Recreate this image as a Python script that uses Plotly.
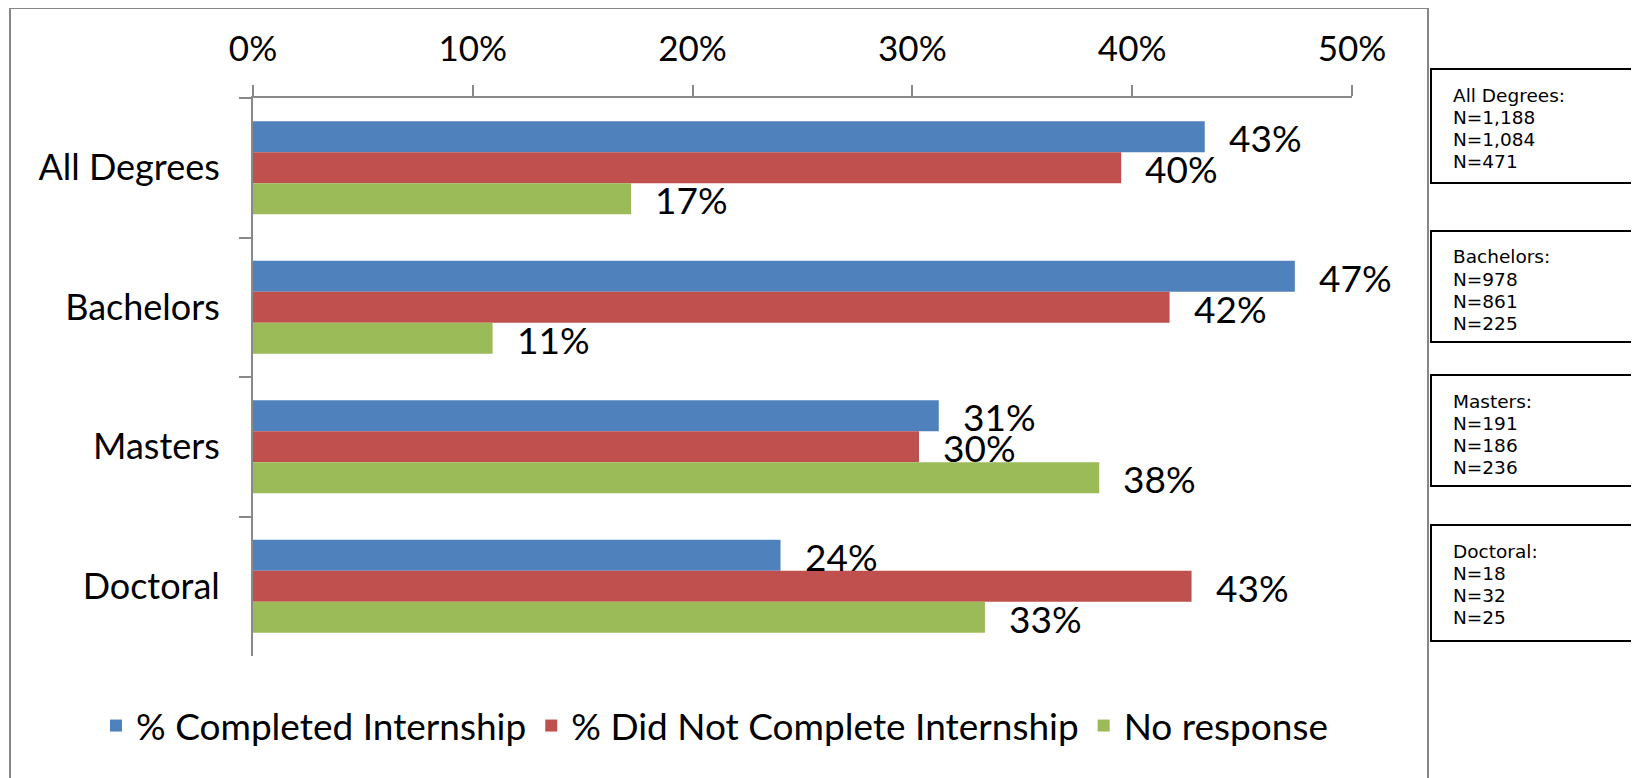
import plotly.graph_objects as go

categories = ["All Degrees", "Bachelors", "Masters", "Doctoral"]
series_names = ["% Completed Internship", "% Did Not Complete Internship", "No response"]
completed = [43.3, 47.4, 31.2, 24.0]
not_completed = [39.5, 41.7, 30.3, 42.7]
no_response = [17.2, 10.9, 38.5, 33.3]
label_completed = ["43%", "47%", "31%", "24%"]
label_not_completed = ["40%", "42%", "30%", "43%"]
label_no_response = ["17%", "11%", "38%", "33%"]
colors = ["#4F81BD", "#C0504D", "#9BBB59"]
tick_vals = [0, 10, 20, 30, 40, 50]
tick_text = ["0%", "10%", "20%", "30%", "40%", "50%"]
box_titles = ["All Degrees:", "Bachelors:", "Masters:", "Doctoral:"]
n_completed = ["1,188", "978", "191", "18"]
n_not_completed = ["1,084", "861", "186", "32"]
n_no_response = ["471", "225", "236", "25"]

W, H = 1639, 778
OFF = 8  # page body margin
# plot area as seen on screen
SL, SR, ST, SB = 253, 1352, 98, 656
L, R, T, B = SL - OFF, SR - OFF, ST - OFF, SB - OFF

def px(x):  # screen x -> paper
    return (x - SL) / (SR - SL)

def py(y):  # screen y -> paper
    return 1 - (y - ST) / (SB - ST)

FONT = "Lato"
fig = go.Figure()
all_vals = [completed, not_completed, no_response]
all_labels = [label_completed, label_not_completed, label_no_response]
for name, vals, col in zip(series_names, all_vals, colors):
    fig.add_trace(go.Bar(
        y=categories, x=vals, name=name, orientation="h",
        marker=dict(color=col, line=dict(width=0)),
        hoverinfo="skip",
    ))

BARGAP = 0.335
bar_px = (SB - ST) / 4 * (1 - BARGAP) / 3
annotations = []
for i, labels in enumerate(all_labels):
    for cat, v, lab in zip(categories, all_vals[i], labels):
        annotations.append(dict(
            x=v, y=cat, xref="x", yref="y", text=lab, showarrow=False,
            xanchor="left", yanchor="middle", xshift=22,
            yshift=(1 - i) * bar_px - 1,
            font=dict(family=FONT, size=37, color="black"),
        ))

box_tops = [69, 231, 375, 525]
box_bottoms = [183, 342, 486, 641]
shapes = [dict(type="rect", xref="paper", yref="paper",
               x0=px(10), x1=px(1428), y0=py(820), y1=py(8),
               line=dict(color="#878787", width=2), fillcolor="rgba(0,0,0,0)", layer="below")]
LINE_SP = 22
for k in range(4):
    shapes.append(dict(type="rect", xref="paper", yref="paper",
                       x0=px(1431), x1=px(1680), y0=py(box_bottoms[k]), y1=py(box_tops[k]),
                       line=dict(color="black", width=2), fillcolor="white"))
    lines = [box_titles[k], "N=" + n_completed[k], "N=" + n_not_completed[k], "N=" + n_no_response[k]]
    for j, t in enumerate(lines):
        annotations.append(dict(
            x=px(1451), y=py(box_tops[k] + 26 + j * LINE_SP), xref="paper", yref="paper",
            text=t, showarrow=False, xanchor="left", yanchor="middle", align="left",
            font=dict(family="DejaVu Sans", size=18.5, color="black"),
        ))

fig.update_layout(
    width=W, height=H,
    margin=dict(l=L, r=W - R, t=T, b=H - B, pad=0, autoexpand=False),
    paper_bgcolor="white", plot_bgcolor="white",
    barmode="group", bargap=BARGAP, bargroupgap=0,
    font=dict(family=FONT, color="black"),
    xaxis=dict(range=[0, 50], side="top", tickvals=tick_vals, ticktext=tick_text,
               showgrid=False, zeroline=False, showline=True, linecolor="#898989", linewidth=2,
               ticks="outside", ticklen=11, tickwidth=2, tickcolor="#898989",
               tickfont=dict(family=FONT, size=35, color="black"), ticklabelstandoff=10,
               automargin=False),
    yaxis=dict(range=[3.5, -0.5], showgrid=False, zeroline=False, showline=True,
               linecolor="#898989", linewidth=2, ticks="outside", ticklen=12, tickwidth=2,
               tickcolor="#898989", tickson="boundaries",
               tickfont=dict(family=FONT, size=36, color="black"), ticklabelstandoff=24,
               automargin=False),
    legend=dict(orientation="h", x=px(96), xanchor="left", y=py(726), yanchor="middle",
                font=dict(family=FONT, size=37, color="black"), itemwidth=30,
                bgcolor="rgba(0,0,0,0)"),
    showlegend=True,
    shapes=shapes, annotations=annotations,
)
fig.write_html("out.html")
